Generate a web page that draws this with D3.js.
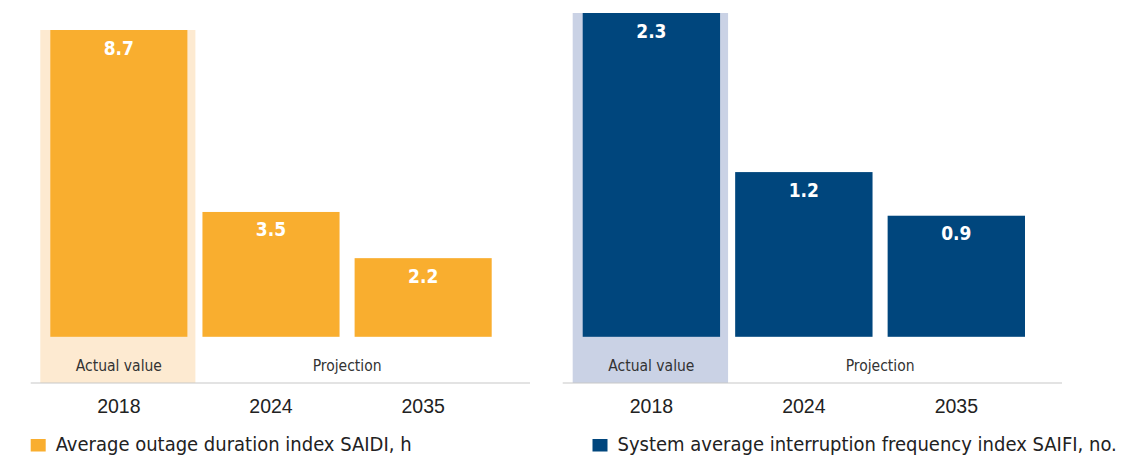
<!DOCTYPE html>
<html>
<head>
<meta charset="utf-8">
<script src="https://cdn.jsdelivr.net/npm/d3@7"></script>
<style>
  html, body { margin: 0; padding: 0; background: #fff; }
  svg { display: block; font-family: "Liberation Sans Narrow", "DejaVu Sans Condensed", "Roboto", sans-serif; }
</style>
</head>
<body>
<svg id="chart" width="1135" height="457"></svg>
<script>
// ---- data ----
const years = ["2018", "2024", "2035"];
const saidiValues = [8.7, 3.54, 2.23];
const saifiValues = [2.3, 1.17, 0.86];
const saidiLegend = "Average outage duration index SAIDI, h";
const saifiLegend = "System average interruption frequency index SAIFI, no.";
const actualLabel = "Actual value";
const projectionLabel = "Projection";

const svg = d3.select("#chart");
const baseline = 336.8;
const fmt = d3.format(".1f");

function panel(opts) {
  const g = svg.append("g");
  const x = d3.scaleBand().domain(years).range(opts.xRange).paddingInner(0.099).paddingOuter(0);
  const y = d3.scaleLinear().domain([0, opts.maxVal]).range([baseline, opts.topY]);
  const bw = x.bandwidth();

  // shaded "actual" band
  g.append("rect")
    .attr("x", x(years[0]) - 10)
    .attr("y", opts.topY)
    .attr("width", bw + 18)
    .attr("height", opts.axisY - opts.topY)
    .attr("fill", opts.shade);

  // bars
  g.selectAll("rect.bar").data(opts.values).enter().append("rect")
    .attr("class", "bar")
    .attr("x", (d, i) => x(years[i]))
    .attr("y", d => y(d))
    .attr("width", bw)
    .attr("height", d => baseline - y(d))
    .attr("fill", opts.color);

  // value labels
  g.selectAll("text.val").data(opts.values).enter().append("text")
    .attr("class", "val")
    .attr("x", (d, i) => x(years[i]) + bw / 2)
    .attr("y", d => y(d) + 24.5)
    .attr("text-anchor", "middle")
    .attr("fill", "#fff")
    .attr("font-weight", "bold")
    .attr("font-size", 19)
    .text(d => fmt(d));

  // axis line
  g.append("line")
    .attr("x1", opts.axisX[0]).attr("x2", opts.axisX[1])
    .attr("y1", opts.axisY).attr("y2", opts.axisY)
    .attr("stroke", "#c8c8c8").attr("stroke-width", 1.2);

  // group labels
  g.append("text")
    .attr("x", x(years[0]) + bw / 2)
    .attr("y", 370.7)
    .attr("text-anchor", "middle")
    .attr("font-size", 15.5)
    .attr("fill", "#333")
    .text(actualLabel);
  g.append("text")
    .attr("x", (x(years[1]) + x(years[2]) + bw) / 2)
    .attr("y", 370.7)
    .attr("text-anchor", "middle")
    .attr("font-size", 15.5)
    .attr("fill", "#333")
    .text(projectionLabel);

  // year axis labels
  const axis = d3.axisBottom(x).tickSize(0).tickPadding(0);
  const ag = g.append("g").attr("transform", `translate(0, 413.3)`).call(axis);
  ag.select(".domain").remove();
  ag.selectAll("text")
    .attr("font-size", 19.5)
    .attr("fill", "#222")
    .attr("font-family", null)
    .attr("y", 0)
    .attr("dy", 0);

  // legend
  g.append("rect")
    .attr("x", opts.legendX).attr("y", 439)
    .attr("width", 15).attr("height", 12.5)
    .attr("fill", opts.color);
  g.append("text")
    .attr("x", opts.legendX + 25)
    .attr("y", 450.5)
    .attr("font-size", 20)
    .attr("fill", "#222")
    .text(opts.legend);
}

panel({
  values: saidiValues, maxVal: 8.7, topY: 30,
  xRange: [50.3, 491.7],
  axisX: [30.7, 530], axisY: 383,
  color: "#f9ae2f", shade: "#fdead1",
  legendX: 30.7, legend: saidiLegend
});
panel({
  values: saifiValues, maxVal: 2.3, topY: 13,
  xRange: [582.7, 1025],
  axisX: [562.7, 1062], axisY: 383,
  color: "#00467d", shade: "#cad2e5",
  legendX: 592.5, legend: saifiLegend
});
</script>
</body>
</html>
